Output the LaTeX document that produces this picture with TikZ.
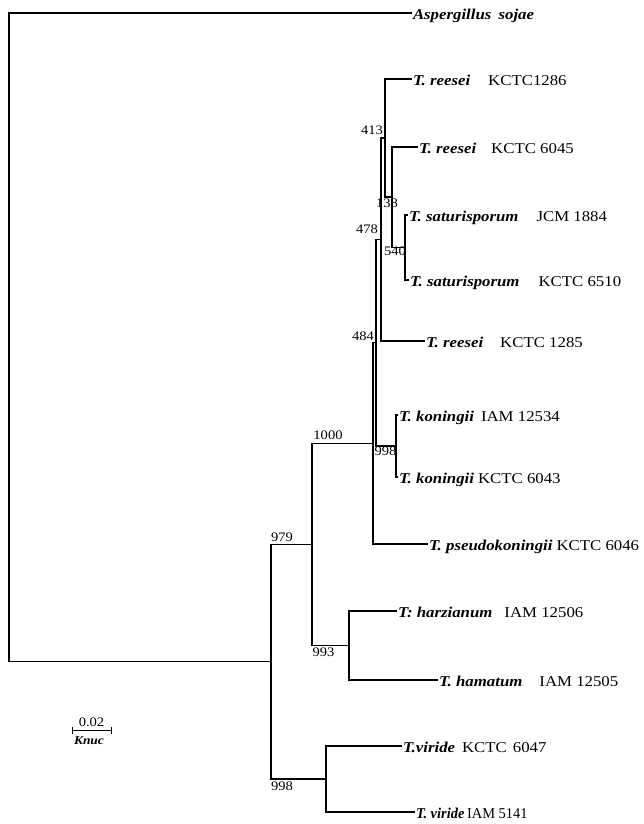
\documentclass[tikz,border=0pt]{standalone}
\usepackage{fontspec}
\usetikzlibrary{calc}
\setmainfont{Liberation Serif}[FakeStretch=1.12]
\newcommand\spn[1]{\textbf{\textit{#1}}}
\begin{document}
\begin{tikzpicture}[x=1pt,y=-1pt,
  br/.style={draw=black,line width=1.2pt},
  leaf/.style={anchor=west,inner sep=0.8pt,font=\fontsize{15}{17}\selectfont,text height=2.9ex,text depth=0pt},
  boot/.style={inner sep=0pt,font=\fontsize{13}{15}\selectfont}]
\useasboundingbox (0,0) rectangle (643,824);
% internal nodes
\coordinate (root) at (9,337.4);
\coordinate (n979) at (271,661.8);
\coordinate (n1000) at (312,544.5);
\coordinate (nA) at (373,443.4);
\coordinate (n484) at (376,342.75);
\coordinate (n478) at (381,239.5);
\coordinate (n413) at (385,138);
\coordinate (n138) at (392,197);
\coordinate (n540) at (405,247.5);
\coordinate (nk) at (396,446);
\coordinate (n993) at (349,645.5);
\coordinate (nv) at (326,779);
% leaves
\node[leaf] (asp) at (412,13) {\spn{Aspergillus\hspace{3pt} sojae}};
\node[leaf] (r1286) at (412,79) {\spn{T.\ reesei}\hspace{18pt}KCTC1286};
\node[leaf] (r6045) at (418,147) {\spn{T.\ reesei}\hspace{15pt}KCTC 6045};
\node[leaf] (jcm) at (408,215) {\spn{T.\ saturisporum}\hspace{18pt}JCM 1884};
\node[leaf] (s6510) at (409,280) {\spn{T.\ saturisporum}\hspace{19pt}KCTC 6510};
\node[leaf] (r1285) at (425,341) {\spn{T.\ reesei}\hspace{17pt}KCTC 1285};
\node[leaf] (kIAM) at (398,415) {\spn{T.\ koningii}\hspace{7pt}IAM 12534};
\node[leaf] (kKCTC) at (398,477) {\spn{T.\ koningii}\hspace{4pt}KCTC 6043};
\node[leaf] (pseudo) at (428,544) {\spn{T.\ pseudokoningii}\hspace{4pt}KCTC 6046};
\node[leaf] (harz) at (397,611) {\spn{T:\ harzianum}\hspace{12pt}IAM 12506};
\node[leaf] (ham) at (438,680) {\spn{T.\ hamatum}\hspace{17pt}IAM 12505};
\node[leaf] (vK) at (402,746) {\spn{T.viride}\hspace{7pt}KCTC\hspace{6pt}6047};
\node[leaf] (vIAM) at (415,812) {\scalebox{0.86}[1]{\spn{T.\ viride}\hspace{3pt}IAM 5141}};
% branches
\draw[br] (root) |- (asp.west);
\draw[br] (root) |- (n979);
\draw[br] (n979) |- (n1000);
\draw[br] (n979) |- (nv);
\draw[br] (n1000) |- (nA);
\draw[br] (n1000) |- (n993);
\draw[br] (nA) |- (n484);
\draw[br] (nA) |- (pseudo.west);
\draw[br] (n484) |- (n478);
\draw[br] (n484) |- (nk);
\draw[br] (n478) |- (n413);
\draw[br] (n478) |- (r1285.west);
\draw[br] (n413) |- (r1286.west);
\draw[br] (n413) |- (n138);
\draw[br] (n138) |- (r6045.west);
\draw[br] (n138) |- (n540);
\draw[br] (n540) |- (jcm.west);
\draw[br] (n540) |- (s6510.west);
\draw[br] (nk) |- (kIAM.west);
\draw[br] (nk) |- (kKCTC.west);
\draw[br] (n993) |- (harz.west);
\draw[br] (n993) |- (ham.west);
\draw[br] (nv) |- (vK.west);
\draw[br] (nv) |- (vIAM.west);
% bootstrap values
\node[boot] (b413) at (372,130) {413};
\node[boot] (b138) at (387,203) {138};
\node[boot] (b478) at (367,229) {478};
\node[boot] (b540) at (395,251) {540};
\node[boot] (b484) at (363,336) {484};
\node[boot] (b998a) at (385.5,451) {998};
\node[boot] (b1000) at (328,435) {1000};
\node[boot] (b979) at (282,537) {979};
\node[boot] (b993) at (323.5,652) {993};
\node[boot] (b998b) at (282,786) {998};
% scale bar
\coordinate (sbL) at (72,730.5);
\coordinate (sbR) at (111,730.5);
\draw[line width=1pt] (sbL) -- (sbR);
\draw[line width=1pt] ([yshift=-3.5pt]sbL) -- ([yshift=3.5pt]sbL);
\draw[line width=1pt] ([yshift=-3.5pt]sbR) -- ([yshift=3.5pt]sbR);
\node[boot] (sbt) at (91.5,722) {0.02};
\node[boot,font=\fontsize{12}{14}\selectfont\bfseries\itshape] (sbu) at (89,741) {Knuc};
\end{tikzpicture}
\end{document}
